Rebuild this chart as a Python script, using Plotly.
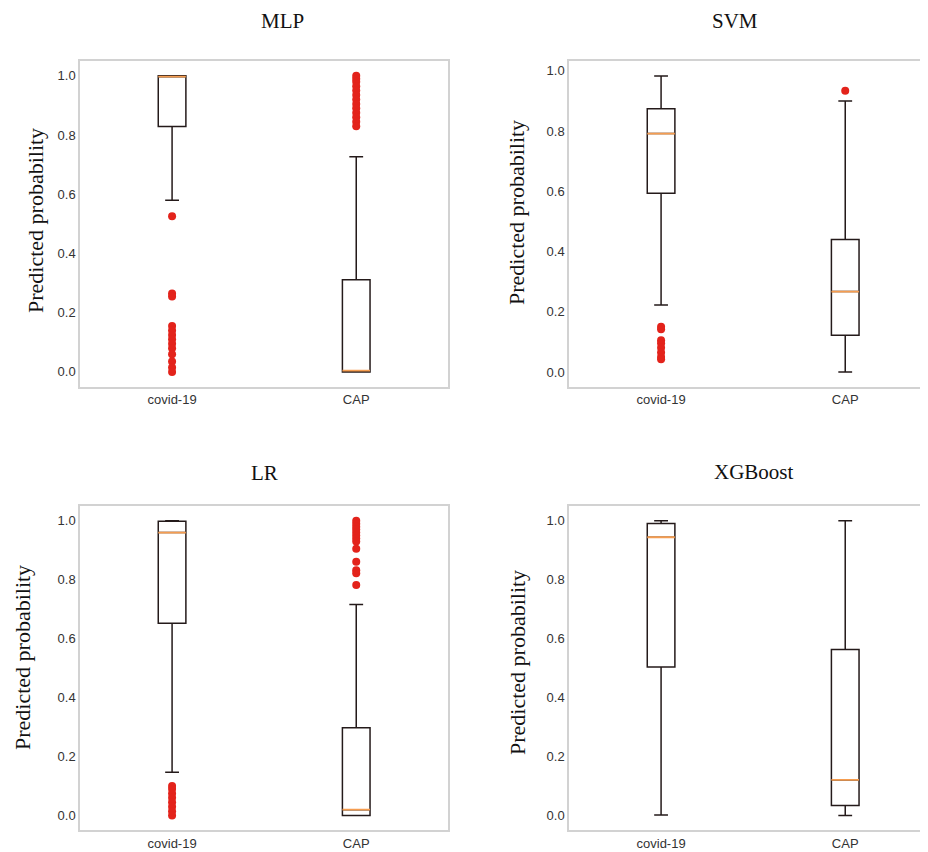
import plotly.graph_objects as go

# The page body adds an 8px margin; the figure is sized and laid out to compensate.
OFF = 8
W, H = 928 - OFF, 852 - OFF

categories = ["covid-19", "CAP"]
positions = [1, 2]
models = ["MLP", "SVM", "LR", "XGBoost"]

# box statistics per model: [covid-19, CAP]
mlp_q1 = [0.829, 0.0]
mlp_med = [0.997, 0.004]
mlp_q3 = [1.0, 0.311]
mlp_lo = [0.580, 0.0]
mlp_hi = [1.0, 0.727]
mlp_out_covid = [0.526, 0.265, 0.255, 0.155, 0.14, 0.125, 0.11, 0.095, 0.08, 0.06, 0.035, 0.015, 0.0]
mlp_out_cap = [1.0, 0.99, 0.98, 0.965, 0.95, 0.935, 0.92, 0.905, 0.89, 0.875, 0.86, 0.845, 0.83]

svm_q1 = [0.594, 0.122]
svm_med = [0.792, 0.267]
svm_q3 = [0.874, 0.440]
svm_lo = [0.222, 0.0]
svm_hi = [0.983, 0.900]
svm_out_covid = [0.150, 0.142, 0.105, 0.095, 0.080, 0.065, 0.050, 0.042]
svm_out_cap = [0.934]

lr_q1 = [0.652, 0.0]
lr_med = [0.960, 0.020]
lr_q3 = [0.998, 0.298]
lr_lo = [0.147, 0.0]
lr_hi = [1.0, 0.716]
lr_out_covid = [0.10, 0.09, 0.075, 0.06, 0.045, 0.03, 0.015, 0.0]
lr_out_cap = [1.0, 0.99, 0.98, 0.97, 0.96, 0.95, 0.94, 0.93, 0.905, 0.861, 0.832, 0.822, 0.782]

xgb_q1 = [0.504, 0.034]
xgb_med = [0.944, 0.121]
xgb_q3 = [0.991, 0.563]
xgb_lo = [0.002, 0.0]
xgb_hi = [1.0, 1.0]
xgb_out_covid = []
xgb_out_cap = []

y_ticks = [0.0, 0.2, 0.4, 0.6, 0.8, 1.0]

panels = [
    (mlp_q1, mlp_med, mlp_q3, mlp_lo, mlp_hi, mlp_out_covid, mlp_out_cap),
    (svm_q1, svm_med, svm_q3, svm_lo, svm_hi, svm_out_covid, svm_out_cap),
    (lr_q1, lr_med, lr_q3, lr_lo, lr_hi, lr_out_covid, lr_out_cap),
    (xgb_q1, xgb_med, xgb_q3, xgb_lo, xgb_hi, xgb_out_covid, xgb_out_cap),
]

# layout (screen pixels)
frames = [  # left, right, top, bottom
    (80, 448.3, 61, 386.7),
    (569, 937, 61, 386.7),
    (80, 448.3, 506, 830.3),
    (569, 937, 506, 830.3),
]
y_ranges = [[-0.05, 1.05], [-0.049, 1.033], [-0.05, 1.05], [-0.05, 1.05]]
title_pos = [(282, 21), (735, 21), (264, 473), (754, 472)]
ylabel_pos = [(35, 221), (517, 213), (22, 658), (517, 663)]

BOX_COLOR = "#241a1a"
MED_COLOR = "#f59d50"
OUT_COLOR = "#e3231b"
FRAME_COLOR = "#d2d2d2"

fig = go.Figure()
layout = dict(
    width=W, height=H, margin=dict(l=0, r=0, t=0, b=0),
    paper_bgcolor="white", plot_bgcolor="white", showlegend=False,
    boxmode="overlay",
)
annotations = []

for i, (q1, med, q3, lo, hi, out_c, out_p) in enumerate(panels):
    k = "" if i == 0 else str(i + 1)
    xa, ya = "x" + k, "y" + k
    left, right, top, bottom = [v - OFF for v in frames[i]]
    px_per_unit = (448.3 - 80) / 2.0
    x0 = left / W
    x1 = min(right, W) / W
    xr_end = 0.5 + (min(right, W) - left) / px_per_unit
    clipped = right > W

    fig.add_trace(go.Box(
        x=positions, q1=q1, median=med, q3=q3, lowerfence=lo, upperfence=hi,
        width=0.15, whiskerwidth=0.5, boxpoints=False,
        line=dict(color=BOX_COLOR, width=1.5), fillcolor="rgba(0,0,0,0)",
        xaxis=xa, yaxis=ya, hoverinfo="skip",
    ))
    fig.add_trace(go.Box(
        x=positions, q1=med, median=med, q3=med, lowerfence=med, upperfence=med,
        width=0.15, whiskerwidth=1.0, boxpoints=False,
        line=dict(color=MED_COLOR, width=1.8), fillcolor="rgba(0,0,0,0)",
        xaxis=xa, yaxis=ya, hoverinfo="skip",
    ))
    ox = [positions[0]] * len(out_c) + [positions[1]] * len(out_p)
    oy = list(out_c) + list(out_p)
    if oy:
        fig.add_trace(go.Scatter(
            x=ox, y=oy, mode="markers",
            marker=dict(color=OUT_COLOR, size=8, line=dict(width=0)),
            xaxis=xa, yaxis=ya, hoverinfo="skip",
        ))

    layout["xaxis" + k] = dict(
        domain=[x0, x1], range=[0.5, xr_end], anchor=ya,
        tickvals=positions, ticktext=categories,
        showgrid=False, zeroline=False, showline=True, mirror=True,
        linecolor=FRAME_COLOR, linewidth=1.5, ticks="",
        tickfont=dict(family="Liberation Sans", size=13, color="#333333"),
    )
    layout["yaxis" + k] = dict(
        domain=[1 - bottom / H, 1 - top / H], range=y_ranges[i], anchor=xa,
        tickvals=y_ticks, tickformat=".1f",
        showgrid=False, zeroline=False, showline=True,
        mirror=(not clipped),
        linecolor=FRAME_COLOR, linewidth=1.5, ticks="",
        tickfont=dict(family="Liberation Sans", size=13, color="#333333"),
    )

    tx, ty = title_pos[i]
    annotations.append(dict(
        text=models[i], x=(tx - OFF) / W, y=1 - (ty - OFF) / H, xref="paper", yref="paper",
        xanchor="center", yanchor="middle", showarrow=False, borderpad=0,
        font=dict(family="Liberation Serif", size=21, color="#111111"),
    ))
    lx, ly = ylabel_pos[i]
    annotations.append(dict(
        text="Predicted probability", x=(lx - OFF) / W, y=1 - (ly - OFF) / H,
        xref="paper", yref="paper",
        xanchor="center", yanchor="middle", showarrow=False, textangle=-90,
        font=dict(family="Liberation Serif", size=22, color="#111111"),
    ))

layout["annotations"] = annotations
fig.update_layout(**layout)
fig.write_html("out.html")
